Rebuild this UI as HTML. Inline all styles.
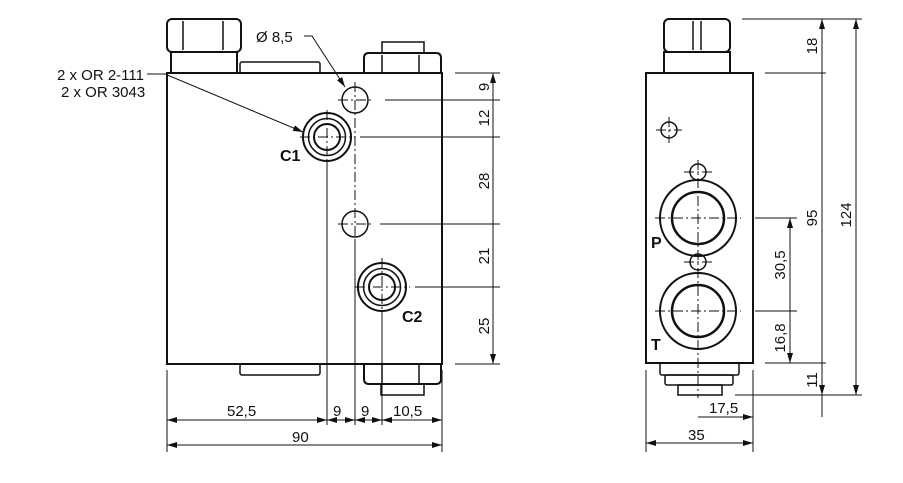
<!DOCTYPE html>
<html><head><meta charset="utf-8"><style>
body{margin:0;background:#fff}
text{font-family:"Liberation Sans",sans-serif;fill:#111}
</style></head><body>
<svg width="903" height="478" viewBox="0 0 903 478" xmlns="http://www.w3.org/2000/svg">
<defs>
<marker id="a" viewBox="0 0 10 6" refX="10" refY="3" markerWidth="10" markerHeight="6" orient="auto-start-reverse" markerUnits="userSpaceOnUse"><path d="M0,0 L10,3 L0,6z" fill="#111"/></marker>
</defs>
<g stroke="#111" fill="none" stroke-width="2">
<rect x="167" y="73" width="275" height="291"/>
<path d="M171,73 V52 H237 V73"/>
<rect x="167" y="19" width="74" height="33" rx="5"/>
<path d="M183,21 V50 M223,21 V50" stroke-width="1.5"/>
<rect x="240" y="62" width="80" height="11" rx="2" stroke-width="1.5"/>
<path d="M364,73 V58 Q364,53 369,53 H436 Q441,53 441,58 V73"/>
<path d="M382,53 V42 H424 V53" stroke-width="1.5"/>
<path d="M382,55 V73 M419,55 V73" stroke-width="1.5"/>
<rect x="240" y="364" width="80" height="11" rx="2" stroke-width="1.5"/>
<path d="M364,364 V379 Q364,384 369,384 H436 Q441,384 441,379 V364"/>
<path d="M381,384 V395 H424 V384" stroke-width="1.5"/>
<path d="M382,364 V384 M419,364 V384" stroke-width="1.5"/>
<circle cx="355" cy="100" r="13" stroke-width="1.5"/>
<circle cx="355" cy="224" r="13" stroke-width="1.5"/>
<circle cx="327" cy="137" r="24"/><circle cx="327" cy="137" r="18.5" stroke-width="1.5"/><circle cx="327" cy="137" r="13"/>
<circle cx="382" cy="287" r="24"/><circle cx="382" cy="287" r="18.5" stroke-width="1.5"/><circle cx="382" cy="287" r="13"/>
<rect x="646" y="73" width="107" height="290"/>
<path d="M664,73 V52 H730 V73"/>
<rect x="664" y="19" width="66" height="33" rx="5"/>
<path d="M693,21 V50 M701,21 V50" stroke-width="1.5"/>
<circle cx="669" cy="130" r="8" stroke-width="1.5"/>
<circle cx="698" cy="172" r="8" stroke-width="1.5"/>
<circle cx="698" cy="262" r="8" stroke-width="1.5"/>
<circle cx="698" cy="218" r="38"/><circle cx="698" cy="218" r="26" stroke-width="2.5"/>
<circle cx="698" cy="311" r="38"/><circle cx="698" cy="311" r="26" stroke-width="2.5"/>
<rect x="660" y="363" width="79" height="12" rx="2" stroke-width="1.5"/>
<rect x="665" y="375" width="68" height="10" rx="2" stroke-width="1.5"/>
<rect x="678" y="385" width="44" height="10" stroke-width="1.5"/>
</g>
<g stroke="#111" stroke-width="1" stroke-dasharray="10,3,2,3" fill="none">
<path d="M355,82 V240 M338,100 H372 M338,224 H372"/>
<path d="M382,258 V400 M355,287 H410 M327,110 V165 M300,137 H355"/>
<path d="M698,160 V398 M655,218 H741 M655,311 H741 M656,130 H682 M669,117 V143 M684,172 H712 M684,262 H712"/>
</g>
<g stroke="#111" stroke-width="1" fill="none">
<path d="M327,160 V425 M355,240 V425 M382,310 V425 M167,370 V452 M442,370 V452"/>
<path d="M455,73 H500 M385,100 H500 M360,137 H500 M380,224 H500 M415,287 H500 M455,364 H500"/>
<path d="M493,73 V364"/>
<path d="M493,73 V100 M493,100 V137 M493,137 V224 M493,224 V287 M493,287 V364" marker-start="url(#a)" marker-end="url(#a)"/>
<path d="M167,420 H327" marker-start="url(#a)" marker-end="url(#a)"/>
<path d="M327,420 H355" marker-start="url(#a)" marker-end="url(#a)"/>
<path d="M355,420 H382" marker-start="url(#a)" marker-end="url(#a)"/>
<path d="M382,420 H442" marker-start="url(#a)" marker-end="url(#a)"/>
<path d="M167,445 H442" marker-start="url(#a)" marker-end="url(#a)"/>
<path d="M147,74 H165 L303,132" marker-end="url(#a)"/>
<path d="M304,36 H312 L345,87" marker-end="url(#a)"/>
<path d="M742,19 H862 M765,73 H826 M755,218 H797 M755,311 H797 M765,363 H826 M735,395 H862"/>
<path d="M646,370 V452 M753,370 V452"/>
<path d="M822,19 V73 M822,73 V363 M822,363 V395" marker-start="url(#a)" marker-end="url(#a)"/>
<path d="M822,395 V417"/>
<path d="M856,19 V395" marker-start="url(#a)" marker-end="url(#a)"/>
<path d="M790,218 V311 M790,311 V363" marker-start="url(#a)" marker-end="url(#a)"/>
<path d="M698,417 H753" marker-end="url(#a)"/>
<path d="M646,443 H753" marker-start="url(#a)" marker-end="url(#a)"/>
</g>
<g font-size="15">
<text x="57" y="80">2 x OR 2-111</text>
<text x="61" y="97">2 x OR 3043</text>
<text x="256" y="42">Ø 8,5</text>
<text x="280" y="161" font-weight="bold" font-size="16">C1</text>
<text x="402" y="322" font-weight="bold" font-size="16">C2</text>
<text x="227" y="416">52,5</text>
<text x="333" y="416">9</text>
<text x="361" y="416">9</text>
<text x="393" y="416">10,5</text>
<text x="292" y="442">90</text>
<text x="651" y="248" font-weight="bold" font-size="16">P</text>
<text x="651" y="350" font-weight="bold" font-size="16">T</text>
<text x="709" y="413">17,5</text>
<text x="688" y="440">35</text>
<g text-anchor="middle">
<text transform="translate(489,87) rotate(-90)">9</text>
<text transform="translate(489,118) rotate(-90)">12</text>
<text transform="translate(489,181) rotate(-90)">28</text>
<text transform="translate(489,256) rotate(-90)">21</text>
<text transform="translate(489,326) rotate(-90)">25</text>
<text transform="translate(817,46) rotate(-90)">18</text>
<text transform="translate(817,218) rotate(-90)">95</text>
<text transform="translate(817,380) rotate(-90)">11</text>
<text transform="translate(851,215) rotate(-90)">124</text>
<text transform="translate(785,265) rotate(-90)">30,5</text>
<text transform="translate(785,338) rotate(-90)">16,8</text>
</g>
</g>
</svg>
</body></html>
